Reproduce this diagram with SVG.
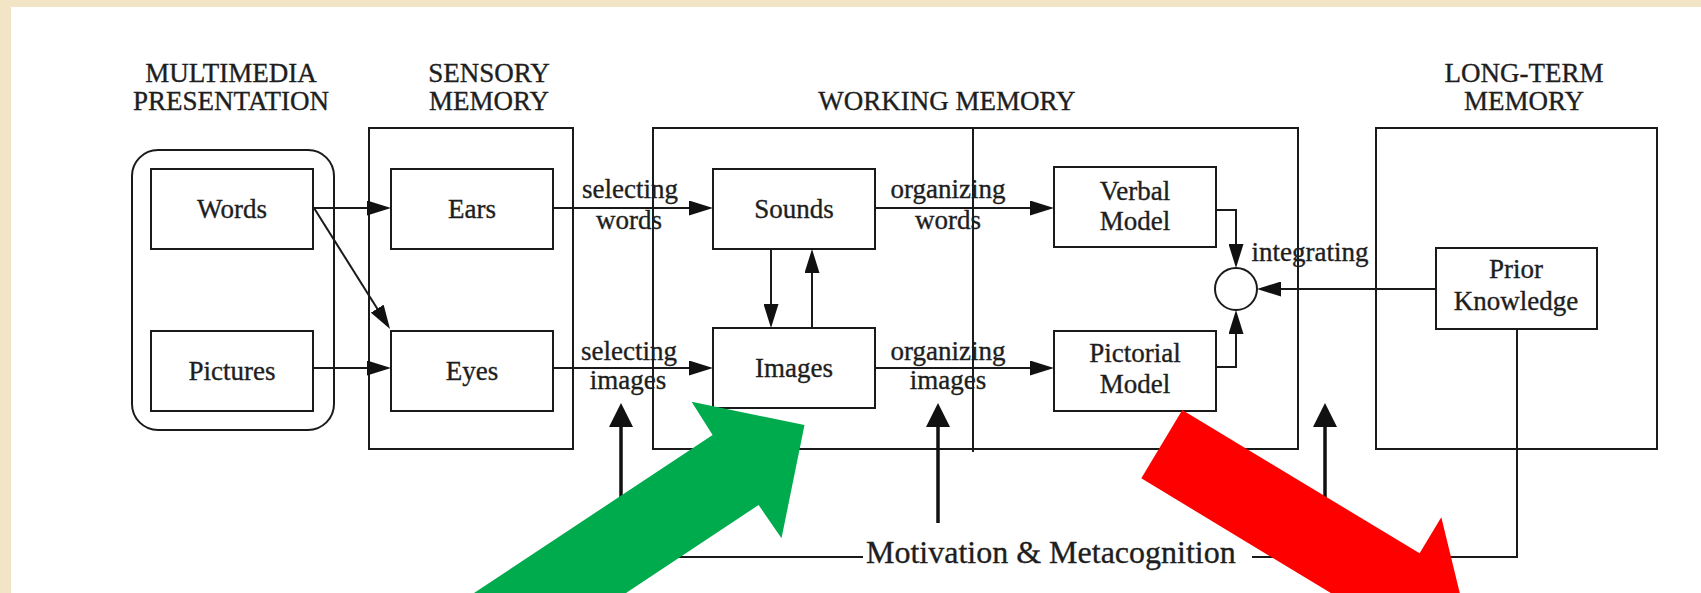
<svg xmlns="http://www.w3.org/2000/svg" width="1701" height="593" viewBox="0 0 1701 593">
<style>
.box{fill:none;stroke:#1a1a1a;stroke-width:2}
.ln{fill:none;stroke:#1a1a1a;stroke-width:2}
.thick{fill:none;stroke:#111;stroke-width:3.5}
text{font-family:"Liberation Serif","Times New Roman",serif;font-size:27px;fill:#1e1e1e;stroke:#1e1e1e;stroke-width:0.35;text-anchor:middle}
</style>
<defs>
<marker id="ah" viewBox="0 0 24 15" refX="14" refY="7.5" markerWidth="24" markerHeight="15" markerUnits="userSpaceOnUse" orient="auto"><path d="M0,0 L24,7.5 L0,15 z" fill="#111"/></marker>
<marker id="ahb" viewBox="0 0 24 24" refX="14" refY="12" markerWidth="24" markerHeight="24" markerUnits="userSpaceOnUse" orient="auto"><path d="M0,0 L24,12 L0,24 z" fill="#111"/></marker>
</defs>
<rect x="0" y="0" width="1701" height="593" fill="#fff"/>
<rect x="0" y="0" width="1701" height="7" fill="#F1E5C5"/>
<rect x="0" y="0" width="11" height="593" fill="#F1E5C5"/>

<g id="headings">
<text x="231" y="82">MULTIMEDIA</text><text x="231" y="110">PRESENTATION</text>
<text x="489" y="82">SENSORY</text><text x="489" y="110">MEMORY</text>
<text x="947" y="110">WORKING MEMORY</text>
<text x="1524" y="82">LONG-TERM</text><text x="1524" y="110">MEMORY</text>
</g>

<g id="containers">
<rect class="box" x="132" y="150" width="202" height="280" rx="26"/>
<rect class="box" x="369" y="128" width="204" height="321"/>
<rect class="box" x="653" y="128" width="645" height="321"/>
<line class="ln" x1="973" y1="128" x2="973" y2="452"/>
<rect class="box" x="1376" y="128" width="281" height="321"/>
</g>

<g id="words"><rect class="box" x="151" y="169" width="162" height="80"/><text x="232" y="218">Words</text></g>
<g id="pictures"><rect class="box" x="151" y="331" width="162" height="80"/><text x="232" y="380">Pictures</text></g>
<g id="ears"><rect class="box" x="391" y="169" width="162" height="80"/><text x="472" y="218">Ears</text></g>
<g id="eyes"><rect class="box" x="391" y="331" width="162" height="80"/><text x="472" y="380">Eyes</text></g>
<g id="sounds"><rect class="box" x="713" y="169" width="162" height="80"/><text x="794" y="218">Sounds</text></g>
<g id="images"><rect class="box" x="713" y="328" width="162" height="80"/><text x="794" y="377">Images</text></g>
<g id="verbal"><rect class="box" x="1054" y="167" width="162" height="80"/><text x="1135" y="200">Verbal</text><text x="1135" y="230">Model</text></g>
<g id="pictorial"><rect class="box" x="1054" y="331" width="162" height="80"/><text x="1135" y="362">Pictorial</text><text x="1135" y="393">Model</text></g>
<g id="integrate"><circle class="box" cx="1236" cy="289" r="21"/></g>
<g id="prior"><rect class="box" x="1436" y="248" width="161" height="81"/><text x="1516" y="278">Prior</text><text x="1516" y="310">Knowledge</text></g>

<g id="connectors">
<line class="ln" x1="313" y1="208" x2="381" y2="208" marker-end="url(#ah)"/>
<line class="ln" x1="313" y1="368" x2="381" y2="368" marker-end="url(#ah)"/>
<line class="ln" x1="314" y1="208" x2="384.7" y2="320.5" marker-end="url(#ah)"/>
<line class="ln" x1="553" y1="208" x2="703" y2="208" marker-end="url(#ah)"/>
<line class="ln" x1="553" y1="368" x2="703" y2="368" marker-end="url(#ah)"/>
<line class="ln" x1="875" y1="208" x2="1044" y2="208" marker-end="url(#ah)"/>
<line class="ln" x1="875" y1="368" x2="1044" y2="368" marker-end="url(#ah)"/>
<line class="ln" x1="771" y1="249" x2="771" y2="318" marker-end="url(#ah)"/>
<line class="ln" x1="812" y1="328" x2="812" y2="259" marker-end="url(#ah)"/>
<path class="ln" d="M1216,210 H1236 V258" marker-end="url(#ah)"/>
<path class="ln" d="M1216,367 H1236 V320" marker-end="url(#ah)"/>
<line class="ln" x1="1436" y1="289" x2="1267" y2="289" marker-end="url(#ah)"/>
<line class="thick" x1="621" y1="557" x2="621" y2="413" marker-end="url(#ahb)"/>
<line class="thick" x1="938" y1="523" x2="938" y2="413" marker-end="url(#ahb)"/>
<line class="thick" x1="1325" y1="557" x2="1325" y2="413" marker-end="url(#ahb)"/>
<path class="ln" d="M621,557 H863"/>
<path class="ln" d="M1252,557 H1517 V329"/>
</g>

<g id="labels">
<text x="630" y="198">selecting</text><text x="629" y="229">words</text>
<text x="629" y="360">selecting</text><text x="628" y="389">images</text>
<text x="948" y="198">organizing</text><text x="948" y="229">words</text>
<text x="948" y="360">organizing</text><text x="948" y="389">images</text>
<text x="1310" y="261">integrating</text>
<text x="866" y="563" style="text-anchor:start;font-size:32px">Motivation &amp; Metacognition</text>
</g>

<g id="overlay-arrows">
<polygon points="474,593 712.6,435 691.6,401.7 804.5,425 781.5,538.3 758.6,505 626,593" fill="#00AB4E"/>
<polygon points="1182.3,410 1419.6,553.3 1441.3,517.3 1468.7,629.6 1356.5,657.7 1378.2,621.7 1141.3,478.3" fill="#FF0000"/>
</g>
</svg>
